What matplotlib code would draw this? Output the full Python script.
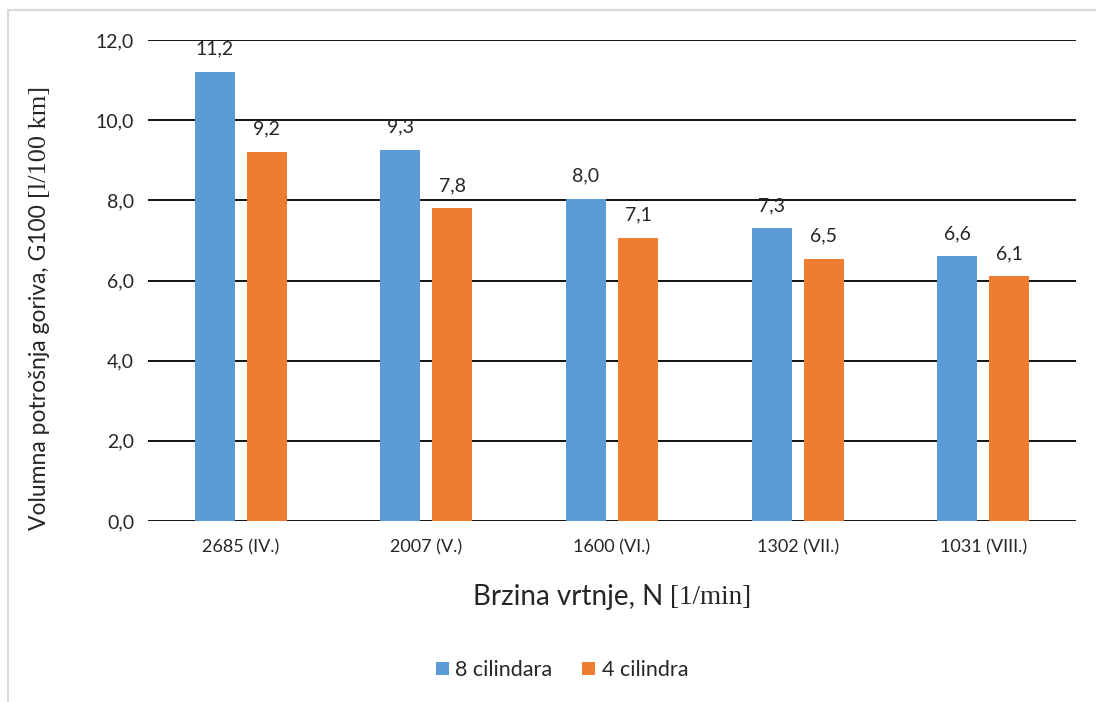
import matplotlib
matplotlib.use("Agg")
import matplotlib.pyplot as plt
import numpy as np
from matplotlib.patches import Rectangle

# podaci
kategorije = ["2685 (IV.)", "2007 (V.)", "1600 (VI.)", "1302 (VII.)", "1031 (VIII.)"]
cil8 = [11.2, 9.26, 8.04, 7.3, 6.6]
cil4 = [9.2, 7.8, 7.06, 6.54, 6.1]
nazivi = ["8 cilindara", "4 cilindra"]
boje = ["#5B9BD5", "#ED7D31"]

plt.rcParams['font.family'] = ['Lato', 'DejaVu Sans']

fig = plt.figure(figsize=(10.96, 7.02), dpi=100)
ax = fig.add_axes([148/1096, 1 - 521/702, (1076-148)/1096, (521-40)/702])

# okvir oko grafa
fig.patches.append(Rectangle((8/1096, -0.05), 1.1, 1 - 10/702 + 0.05,
                             transform=fig.transFigure, fill=False,
                             edgecolor="#d9d9d9", linewidth=1.5))

x = np.arange(len(kategorije))
w = 0.215
off = 0.14
b1 = ax.bar(x - off, cil8, w, color=boje[0], label=nazivi[0], zorder=3)
b2 = ax.bar(x + off, cil4, w, color=boje[1], label=nazivi[1], zorder=3)

for bars, vals in ((b1, cil8), (b2, cil4)):
    for r, v in zip(bars, vals):
        ax.text(r.get_x() + r.get_width()/2, v + 0.36, f"{v:.1f}".replace(".", ","),
                ha="center", va="bottom", fontsize=14, color="#262626")

ax.set_xlim(-0.5, len(kategorije) - 0.5)
ax.set_ylim(0, 12)
ax.set_yticks(np.arange(0, 12.1, 2))
ax.set_yticklabels([f"{t:.1f}".replace(".", ",") for t in np.arange(0, 12.1, 2)])
ax.set_xticks(x)
ax.set_xticklabels(kategorije)
ax.tick_params(axis="y", length=0, pad=10, labelsize=14, labelcolor="#262626")
ax.tick_params(axis="x", length=0, pad=13, labelsize=13, labelcolor="#262626")
ax.grid(axis="y", color="black", linewidth=1.3, zorder=0)
for s in ax.spines.values():
    s.set_visible(False)

# x naslov iz dva dijela (sans + serif), centriran
xt1 = fig.text(0, 1 - 597/702, "Brzina vrtnje, N ", ha="left", va="center",
               fontsize=20, color="#262626")
xt2 = fig.text(0, 1 - 597/702, "[1/min]", ha="left", va="center",
               fontsize=19.5, color="#262626", family="Liberation Serif")
fig.canvas.draw()
w1 = xt1.get_window_extent().width
w2 = xt2.get_window_extent().width
x0 = 612 - (w1 + w2) / 2
xt1.set_x(x0 / 1096)
xt2.set_x((x0 + w1) / 1096)

# y naslov iz dva dijela (sans + serif)
t1 = fig.text(40/1096, 1 - 530/702, "Volumna potrošnja goriva, G100 ", rotation=90,
              ha="center", va="bottom", fontsize=16.5, color="#262626")
fig.canvas.draw()
bb = t1.get_window_extent()
fig.text(40/1096, bb.y1/fig.bbox.height, "[l/100 km]", rotation=90,
         ha="center", va="bottom", fontsize=19, color="#262626", family="Liberation Serif")

leg = fig.legend(handles=[b1, b2], labels=nazivi, loc="center", ncol=2,
                 bbox_to_anchor=(562/1096, 1 - 670/702), frameon=False,
                 fontsize=15.5, handlelength=0.6, handleheight=0.6,
                 handletextpad=0.3, columnspacing=1.4)
for t in leg.get_texts():
    t.set_color("#262626")

fig.savefig("out.png", dpi=100)
